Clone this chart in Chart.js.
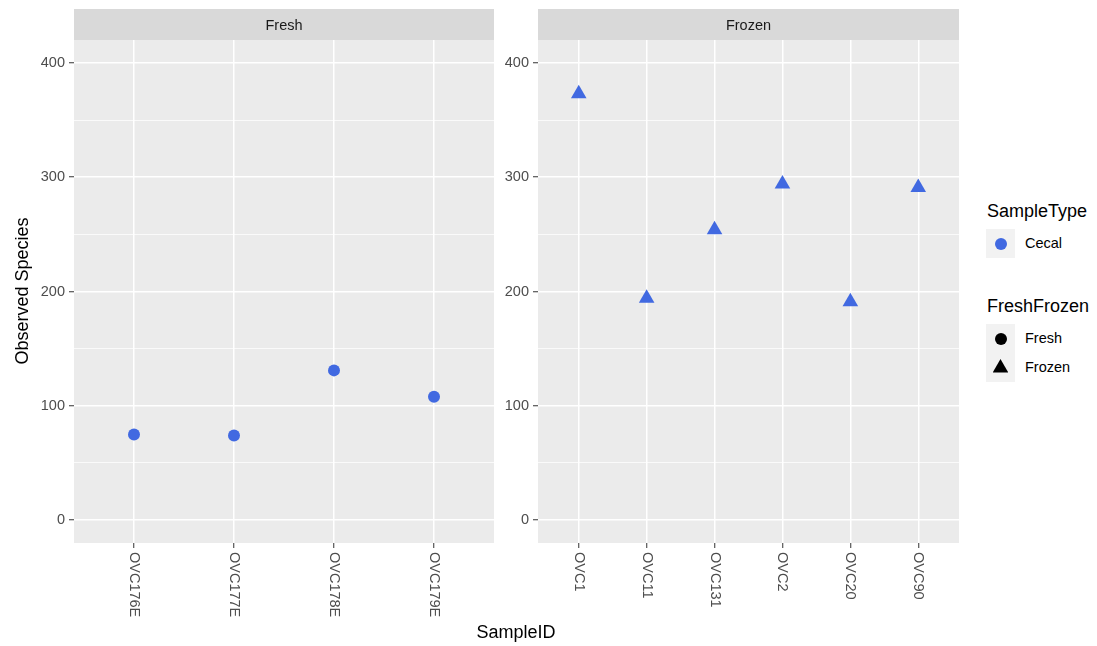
<!DOCTYPE html>
<html>
<head>
<meta charset="utf-8">
<script src="https://cdn.jsdelivr.net/npm/chart.js@4.4.1/dist/chart.umd.min.js"></script>
<style>
  body { margin: 0; background: #fff; font-family: 'Liberation Sans', Arial, sans-serif; }
  #wrap { position: relative; width: 1097px; height: 646px; overflow: hidden; }
  .panel { position: absolute; top: 0; }
  .txt { position: absolute; white-space: nowrap; color: #000; }
  .ytitle { left: -178px; top: 280px; width: 400px; height: 22px; line-height: 22px;
            text-align: center; font-size: 18px; transform: rotate(-90deg); }
  .xtitle { left: 316px; top: 621px; width: 400px; height: 22px; line-height: 22px;
            text-align: center; font-size: 18px; }
  .lgtitle { font-size: 18px; height: 22px; line-height: 22px; left: 987px; }
  .lgtext { font-size: 14.5px; height: 18px; line-height: 18px; left: 1025px; }
  .key { position: absolute; left: 986px; width: 29px; background: #F2F2F2; }
  .dot { position: absolute; width: 12px; height: 12px; border-radius: 50%; }
  .tri { position: absolute; width: 15.6px; height: 13.5px;
         clip-path: polygon(50% 0, 100% 100%, 0 100%); }
</style>
</head>
<body>
<div id="wrap">
  <div class="panel" style="left:0px"><canvas id="fresh" width="494" height="646"></canvas></div>
  <div class="panel" style="left:494px"><canvas id="frozen" width="465" height="646"></canvas></div>

  <div class="txt ytitle">Observed Species</div>
  <div class="txt xtitle">SampleID</div>

  <div class="txt lgtitle" style="top:200px">SampleType</div>
  <div class="key" style="top:229px;height:29px"></div>
  <div class="dot" style="left:994.5px;top:237.5px;background:#4169E1"></div>
  <div class="txt lgtext" style="top:234px">Cecal</div>

  <div class="txt lgtitle" style="top:295px">FreshFrozen</div>
  <div class="key" style="top:324px;height:58px"></div>
  <div class="dot" style="left:994.5px;top:332.5px;background:#000"></div>
  <div class="tri" style="left:992.7px;top:359px;background:#000"></div>
  <div class="txt lgtext" style="top:329px">Fresh</div>
  <div class="txt lgtext" style="top:358px">Frozen</div>
</div>

<script>
// facet "Fresh"
const freshIds = ['OVC176E', 'OVC177E', 'OVC178E', 'OVC179E'];
const freshObs = [75, 74, 131, 108];

// facet "Frozen"
const frozenIds = ['OVC1', 'OVC11', 'OVC131', 'OVC2', 'OVC20', 'OVC90'];
const frozenObs = [373, 194, 254, 294, 191, 291];

// y axis
const yMajor = [0, 100, 200, 300, 400];
const yMinor = [50, 150, 250, 350];

const pointColor = '#4169E1';
const tickFont = { family: "'Liberation Sans', Arial, sans-serif", size: 14.5 };

// grey panel + strip on top
const facetPlugin = {
  id: 'facet',
  beforeDraw(chart, args, opts) {
    const a = chart.chartArea;
    const ctx = chart.ctx;
    ctx.save();
    ctx.fillStyle = '#EBEBEB';
    ctx.fillRect(a.left, a.top, a.right - a.left, a.bottom - a.top);
    ctx.fillStyle = '#D9D9D9';
    ctx.fillRect(a.left, 9, a.right - a.left, a.top - 9);
    ctx.fillStyle = '#1A1A1A';
    ctx.font = "14.5px 'Liberation Sans', Arial, sans-serif";
    ctx.textAlign = 'center';
    ctx.textBaseline = 'middle';
    ctx.fillText(opts.strip, (a.left + a.right) / 2, (9 + a.top) / 2 + 1);
    ctx.restore();
  },
  // x labels turned 90deg clockwise, like ggplot angle = -90
  afterDraw(chart, args, opts) {
    const xs = chart.scales.x;
    const ctx = chart.ctx;
    ctx.save();
    ctx.fillStyle = '#4D4D4D';
    ctx.font = "14.5px 'Liberation Sans', Arial, sans-serif";
    ctx.textAlign = 'left';
    ctx.textBaseline = 'middle';
    opts.ids.forEach((id, i) => {
      ctx.save();
      ctx.translate(xs.getPixelForValue(i), chart.chartArea.bottom + 9);
      ctx.rotate(Math.PI / 2);
      ctx.fillText(id, 0, 0);
      ctx.restore();
    });
    ctx.restore();
  }
};

function makePanel(id, strip, ids, obs, shape, radius, yWidth) {
  return new Chart(document.getElementById(id), {
    type: 'scatter',
    data: {
      datasets: [{
        data: obs.map((v, i) => ({ x: i, y: v })),
        pointStyle: shape,
        pointRadius: radius,
        pointHoverRadius: radius,
        backgroundColor: pointColor,
        borderWidth: 0,
        clip: false
      }]
    },
    options: {
      responsive: false,
      animation: false,
      events: [],
      layout: { autoPadding: false, padding: { top: 40, left: 0, right: 0, bottom: 0 } },
      plugins: {
        legend: { display: false },
        tooltip: { enabled: false },
        facet: { strip: strip, ids: ids }
      },
      scales: {
        x: {
          type: 'linear',
          min: -0.6,
          max: ids.length - 1 + 0.6,
          afterBuildTicks: s => { s.ticks = ids.map((_, i) => ({ value: i })); },
          afterFit: s => { s.height = 103; },
          ticks: { display: false },
          border: { display: false },
          grid: { color: '#FFFFFF', lineWidth: 1.5, tickColor: '#333333', tickLength: 5, tickWidth: 1 }
        },
        y: {
          min: -20,
          max: 420,
          afterBuildTicks: s => {
            s.ticks = yMajor.concat(yMinor).sort((a, b) => a - b).map(v => ({ value: v }));
          },
          afterFit: s => { s.width = yWidth; },
          ticks: {
            font: tickFont,
            color: '#4D4D4D',
            padding: 4,
            callback: v => yMajor.includes(v) ? String(v) : ''
          },
          border: { display: false },
          grid: {
            color: '#FFFFFF',
            lineWidth: c => yMajor.includes(c.tick.value) ? 1.5 : 0.75,
            tickColor: c => yMajor.includes(c.tick.value) ? '#333333' : 'rgba(0,0,0,0)',
            tickLength: 5,
            tickWidth: 1
          }
        }
      }
    },
    plugins: [facetPlugin]
  });
}

makePanel('fresh', 'Fresh', freshIds, freshObs, 'circle', 6, 74);
makePanel('frozen', 'Frozen', frozenIds, frozenObs, 'triangle', 9, 44);
</script>
</body>
</html>
